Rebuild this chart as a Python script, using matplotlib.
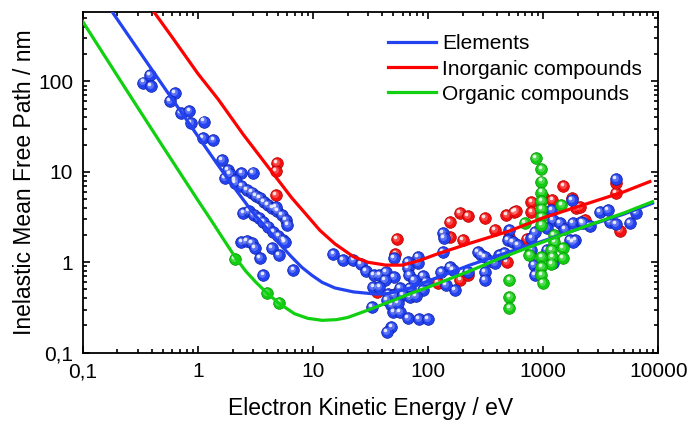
import numpy as np
import matplotlib.pyplot as plt
from matplotlib.ticker import FixedLocator, FixedFormatter, LogLocator, NullFormatter
from matplotlib.transforms import offset_copy

plt.rcParams['font.family'] = ['Liberation Sans', 'DejaVu Sans']

# ---- fitted curves ----
elemCurveE = [0.18, 0.3, 0.6, 1.0, 1.5, 2.0, 3.0, 4.0, 5.0, 6.5, 8.0, 9.75, 12, 15.5,
              22.5, 35, 45, 70, 100, 230, 417, 1000, 2550, 5000, 8900]
elemCurveL = [588, 228, 63.5, 24.8, 11.8, 7.1, 3.55, 2.35, 1.65, 1.15, 0.88, 0.72, 0.6,
              0.52, 0.47, 0.445, 0.45, 0.52, 0.62, 0.93, 1.2, 1.72, 2.58, 3.4, 4.5]

inorgCurveE = [0.41, 0.6, 1.0, 1.5, 2.5, 4.68, 6.5, 8.2, 11.5, 15.5, 22.5, 30, 43, 60, 85,
               119, 230, 500, 1000, 2090, 5000, 8440]
inorgCurveL = [600, 306, 122, 63.5, 25.5, 9.0, 5.2, 3.7, 2.25, 1.6, 1.15, 1.0, 0.93, 0.93,
               1.05, 1.23, 1.62, 2.2, 3.1, 4.2, 6.0, 7.8]

orgCurveE = [0.1, 0.2, 0.3, 0.5, 0.75, 1.0, 1.32, 1.6, 2.1, 2.6, 3.2, 3.96, 5.1, 6.9, 9,
             12, 16, 20, 31, 50, 70, 100, 230, 417, 1000, 2090, 5000, 8900]
orgCurveL = [458, 115, 51.5, 18.8, 8.5, 4.85, 2.85, 1.95, 1.15, 0.80, 0.6, 0.46, 0.35, 0.27,
             0.24, 0.228, 0.232, 0.245, 0.30, 0.38, 0.45, 0.53, 0.8, 1.1, 1.68, 2.38, 3.5, 4.67]

# ---- measured IMFP values ----
elemE = [0.336, 0.384, 0.389, 0.632, 0.573, 0.71, 0.841, 0.865, 1.13, 1.10, 1.36, 1.61,
         1.72, 1.81, 1.90, 2.10, 2.39, 2.99, 2.39, 2.10,
         2.65, 2.93, 3.19, 3.46, 3.75, 4.08, 4.45, 4.89, 5.33, 5.82, 6.0, 4.78,
         2.48, 2.79, 3.07, 3.41, 3.70, 4.08, 4.52, 4.99, 5.51, 5.7,
         2.39, 2.65, 2.93, 3.13, 3.46, 3.70, 4.37, 5.06, 6.73, 15.0,
         18.1, 22.4, 25.9, 28.8, 33.8, 37.6, 43, 50.4, 42, 33.4, 37.6, 45, 50, 43.6, 48, 50,
         56.6, 67, 83.6, 100, 48, 43.6, 32.3, 50.4, 67, 81.8, 81.8, 67, 68.7, 90.6, 95, 90.6,
         69, 56.6, 60.5, 69.2, 78.7, 54.5, 75, 135, 137, 135, 130, 154, 171, 143, 163,
         272, 290, 310, 342, 380, 417, 460, 222, 310, 310, 509, 494, 545, 600,
         790, 850, 1180, 1210, 1400, 1770, 1530, 1820, 1900, 2150, 1710, 1070, 830, 910,
         790, 1070, 1820, 1210, 850,
         4260, 3110, 3650, 3800, 4260, 5660, 6370, 2550, 2200]
elemL = [97, 118, 89, 75, 61, 44.5, 47.5, 34.5, 36, 23.5, 22.5, 13.5,
         8.5, 10.5, 9.5, 7.5, 9.65, 9.8, 7.0, 8.13,
         6.3, 5.9, 5.4, 5.1, 4.68, 4.3, 3.96, 3.69, 3.33, 2.94, 2.59, 4.12,
         3.48, 3.72, 3.33, 3.07, 2.81, 2.48, 2.18, 1.95, 1.76, 1.69,
         1.69, 1.73, 1.62, 1.43, 1.11, 0.72, 1.43, 1.2, 0.82, 1.24,
         1.06, 1.06, 0.95, 0.80, 0.72, 0.72, 0.775, 0.69, 0.637, 0.537, 0.537, 0.443, 0.43,
         0.383, 0.337, 0.284, 0.284, 0.24, 0.236, 0.236, 0.194, 0.168, 0.323, 1.12, 1.015,
         1.15, 0.975, 0.858, 0.72, 0.705, 0.61, 0.494, 0.516, 0.516, 0.435, 0.417, 0.427,
         0.352, 0.637, 2.09, 1.84, 1.31, 0.787, 0.894, 0.494, 0.56, 0.82,
         1.31, 1.2, 1.15, 1.02, 0.975, 1.2, 1.26, 0.787, 0.787, 0.637, 2.28, 1.76, 1.69, 1.55,
         1.84, 2.18, 3.79, 2.94, 2.7, 4.88, 2.32, 2.7, 1.76, 2.81, 1.76, 2.38, 0.93, 0.79,
         1.37, 1.37, 1.69, 0.975, 0.72,
         8.28, 3.63, 3.79, 2.81, 2.65, 2.7, 3.54, 2.52, 2.7]

inorgE = [4.83, 4.75, 4.75, 53.8, 52, 52, 35.8, 154, 201, 190, 121, 188, 222, 310, 479,
          557, 380, 154, 486, 222, 580, 790, 990, 1500, 1770, 1200, 1930, 2290, 790,
          500, 720, 4260, 4640, 2090, 4300]
inorgL = [12.4, 10.3, 5.55, 1.81, 1.23, 0.443, 0.466, 2.81, 1.76, 0.637, 0.586, 3.48, 3.25,
          3.06, 3.34, 3.63, 2.28, 1.89, 1.0, 0.72, 3.72, 4.68, 5.3, 6.98, 5.1, 4.88, 3.96,
          2.94, 3.63, 1.92, 1.8, 5.8, 2.24, 4.12, 7.6]

orgE = [2.10, 3.96, 5.1, 509, 509, 509, 861, 964, 964, 964, 964, 964, 964, 964, 1240,
        1250, 1440, 1180, 1200, 1180, 1490, 1490, 964, 964, 964, 990, 692, 759]
orgL = [1.09, 0.46, 0.35, 0.637, 0.417, 0.31, 14.1, 10.7, 7.8, 5.9, 4.76, 3.86, 3.15, 2.59,
        2.0, 1.69, 4.3, 1.37, 1.15, 0.96, 1.43, 1.11, 1.15, 0.894, 0.72, 0.595, 2.7, 1.2]

tickVals = [0.1, 1, 10, 100, 1000, 10000]
xTickLabels = ['0,1', '1', '10', '100', '1000', '10000']
yTickVals = [0.1, 1, 10, 100]
yTickLabels = ['0,1', '1', '10', '100']

blue = '#2342f0'
red = '#f41010'
green = '#12cc12'

fig = plt.figure(figsize=(6.9, 4.22), dpi=100)
ax = fig.add_axes([0.1199, 0.1642, 0.8342, 0.8074])
ax.set_xscale('log')
ax.set_yscale('log')

hl = offset_copy(ax.transData, fig=fig, x=-1.2, y=1.5, units='points')
hl2 = offset_copy(ax.transData, fig=fig, x=-0.6, y=0.8, units='points')


def balls(E, L, col, dark, z):
    ax.plot(E, L, 'o', ms=8.4, mfc=col, mec=dark, mew=0.5, zorder=z)
    ax.plot(E, L, 'o', ms=5, mfc='white', mec='none', alpha=0.25, transform=hl2, zorder=z)
    ax.plot(E, L, 'o', ms=2.6, mfc='white', mec='none', alpha=0.85, transform=hl, zorder=z)


balls(inorgE, inorgL, red, '#b00000', 2)
balls(elemE, elemL, blue, '#1020a0', 3)
balls(orgE, orgL, green, '#089008', 4)

ax.plot(inorgCurveE, inorgCurveL, color='#ff0000', lw=2.3, zorder=5,
        label='Inorganic compounds', solid_joinstyle='round')
ax.plot(elemCurveE, elemCurveL, color=blue, lw=2.3, zorder=5, label='Elements',
        solid_joinstyle='round')
ax.plot(orgCurveE, orgCurveL, color='#10d010', lw=2.3, zorder=5, label='Organic compounds',
        solid_joinstyle='round')

ax.set_xlim(0.1, 10000)
ax.set_ylim(0.1, 585)

ax.xaxis.set_major_locator(FixedLocator(tickVals))
ax.xaxis.set_major_formatter(FixedFormatter(xTickLabels))
ax.yaxis.set_major_locator(FixedLocator(yTickVals))
ax.yaxis.set_major_formatter(FixedFormatter(yTickLabels))
for a in (ax.xaxis, ax.yaxis):
    a.set_minor_locator(LogLocator(base=10, subs=np.arange(2, 10), numticks=20))
    a.set_minor_formatter(NullFormatter())

ax.tick_params(which='both', direction='in', top=True, right=True, width=1.2)
ax.tick_params(which='major', length=5, labelsize=15, pad=7)
ax.tick_params(which='minor', length=3)
for s in ax.spines.values():
    s.set_linewidth(1.3)

ax.set_xlabel('Electron Kinetic Energy / eV', fontsize=16.5, labelpad=11)
ax.set_ylabel('Inelastic Mean Free Path / nm', fontsize=16.5, labelpad=1)

h, l = ax.get_legend_handles_labels()
order = [1, 0, 2]
ax.legend([h[i] for i in order], [l[i] for i in order], loc='upper left',
          bbox_to_anchor=(0.53, 0.934), frameon=False, fontsize=15,
          handlelength=2.3, handletextpad=0.3, labelspacing=0.29,
          borderpad=0, borderaxespad=0)

fig.savefig('out.png', dpi=100)
